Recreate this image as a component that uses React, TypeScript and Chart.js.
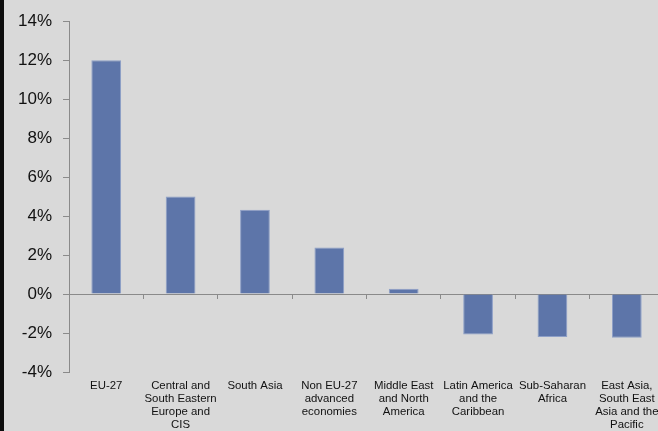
import React, { useEffect, useRef } from "react";
import { Chart, registerables } from "chart.js";

Chart.register(...registerables);

const categories: string[][] = [
  ["EU-27"],
  ["Central and", "South Eastern", "Europe and", "CIS"],
  ["South Asia"],
  ["Non EU-27", "advanced", "economies"],
  ["Middle East", "and North", "America"],
  ["Latin America", "and the", "Caribbean"],
  ["Sub-Saharan", "Africa"],
  ["East Asia,", "South East", "Asia and the", "Pacific"],
];

const values: number[] = [12.0, 5.0, 4.33, 2.39, 0.27, -2.07, -2.21, -2.24];

const yMin = -4;
const yMax = 14;
const yStep = 2;

const bgPlugin = {
  id: "bg",
  beforeDraw(chart: any) {
    const { ctx, width, height } = chart;
    ctx.save();
    ctx.fillStyle = "#d9d9d9";
    ctx.fillRect(0, 0, width, height);
    ctx.fillStyle = "#0d0d0d";
    ctx.fillRect(0, 0, 4, height);
    ctx.restore();
  },
};

export default function App() {
  const ref = useRef<HTMLCanvasElement>(null);

  useEffect(() => {
    document.body.style.margin = "0";
    const canvas = ref.current!;
    const chart = new Chart(canvas, {
      type: "bar",
      data: {
        labels: categories,
        datasets: [
          {
            data: values,
            backgroundColor: "#5d75a9",
            borderColor: "#8d9fc7",
            borderWidth: 1,
            barPercentage: 0.4,
            categoryPercentage: 1,
          },
        ],
      },
      options: {
        responsive: false,
        animation: false,
        layout: { padding: { top: 9, left: 7, right: 2, bottom: 0 } },
        plugins: { legend: { display: false }, tooltip: { enabled: false } },
        scales: {
          x: {
            position: { y: 0 } as any,
            ticks: { display: false },
            grid: {
              drawOnChartArea: false,
              drawTicks: true,
              tickLength: 4,
              color: "#8a8a8a",
              offset: true,
            },
            border: { display: true, color: "#8a8a8a", width: 1 },
          },
          x2: {
            type: "category",
            position: "bottom",
            grid: { display: false, drawTicks: false },
            border: { display: false },
            afterFit: (scale: any) => {
              scale.height = 59;
            },
            ticks: {
              autoSkip: false,
              maxRotation: 0,
              minRotation: 0,
              padding: 7,
              color: "#111111",
              font: { family: "Liberation Sans, Arial, sans-serif", size: 11.4, lineHeight: 1.15 },
            },
          },
          y: {
            min: yMin,
            max: yMax,
            ticks: {
              stepSize: yStep,
              padding: 11,
              color: "#111111",
              font: { family: "Liberation Sans, Arial, sans-serif", size: 17 },
              callback: (v: any) => v + "%",
            },
            grid: {
              drawOnChartArea: false,
              drawTicks: true,
              tickLength: 6,
              color: "#8a8a8a",
            },
            border: { display: true, color: "#8a8a8a", width: 1 },
          },
        },
      },
      plugins: [bgPlugin],
    });
    return () => chart.destroy();
  }, []);

  return (
    <div style={{ width: 658, height: 431, overflow: "hidden", position: "relative" }}>
      <canvas ref={ref} width={666} height={431} style={{ display: "block" }} />
    </div>
  );
}
